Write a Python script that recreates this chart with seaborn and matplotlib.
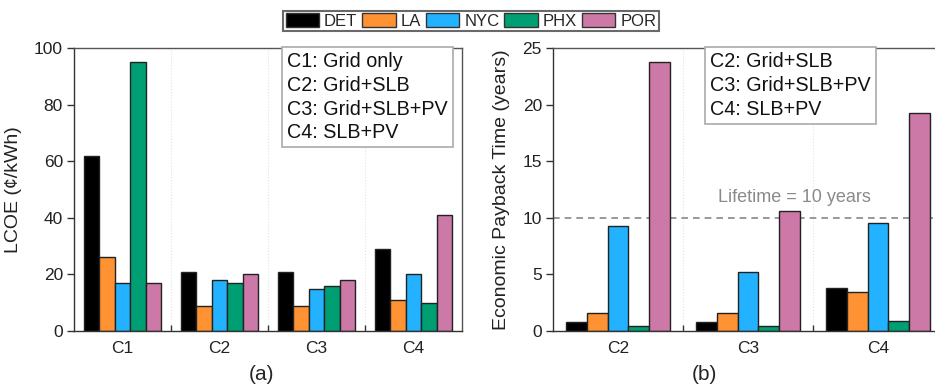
import numpy as np
import pandas as pd
import matplotlib
matplotlib.use("Agg")
import matplotlib.pyplot as plt
import seaborn as sns
from matplotlib.patches import Patch

cities = ["DET", "LA", "NYC", "PHX", "POR"]
colors = ["#000000", "#FF9233", "#22B2FF", "#009E73", "#CC79A7"]

cases_a = ["C1", "C2", "C3", "C4"]
lcoe = {
    "DET": [62, 21, 21, 29],
    "LA": [26, 9, 9, 11],
    "NYC": [17, 18, 15, 20],
    "PHX": [95, 17, 16, 10],
    "POR": [17, 20, 18, 41],
}

cases_b = ["C2", "C3", "C4"]
payback = {
    "DET": [0.8, 0.8, 3.77],
    "LA": [1.6, 1.6, 3.42],
    "NYC": [9.25, 5.2, 9.54],
    "PHX": [0.45, 0.45, 0.88],
    "POR": [23.8, 10.57, 19.26],
}

box_a = "C1: Grid only\nC2: Grid+SLB\nC3: Grid+SLB+PV\nC4: SLB+PV"
box_b = "C2: Grid+SLB\nC3: Grid+SLB+PV\nC4: SLB+PV"

sns.set_theme(style="white")
plt.rcParams["font.family"] = ["Liberation Sans", "DejaVu Sans"]

def to_df(cases, d):
    rows = []
    for c in cities:
        for k, v in zip(cases, d[c]):
            rows.append({"case": k, "city": c, "value": v})
    return pd.DataFrame(rows)

fig = plt.figure(figsize=(9.35, 3.89), dpi=100)
W, H = 935, 389
ax1 = fig.add_axes([74 / W, 1 - 331 / H, 388 / W, 283 / H])
ax2 = fig.add_axes([553 / W, 1 - 331 / H, 390 / W, 283 / H])

pal = dict(zip(cities, colors))
for ax, cases, d in [(ax1, cases_a, lcoe), (ax2, cases_b, payback)]:
    df = to_df(cases, d)
    sns.barplot(data=df, x="case", y="value", hue="city", palette=pal,
                width=0.8, gap=0, saturation=1, edgecolor="#222222",
                linewidth=1.0, legend=False, ax=ax, errorbar=None)
    n = len(cases)
    ax.set_xlim(-0.5, n - 0.5)
    for b in np.arange(0.5, n - 0.5, 1):
        ax.axvline(b, color="#e3e3e3", lw=0.8, ls=":", zorder=0)
    ax.set_xticks(np.arange(0.5, n - 0.5, 1), minor=True)
    ax.tick_params(axis="x", which="minor", direction="in", length=4,
                   bottom=True, width=1, color="#333333")
    ax.tick_params(axis="x", which="major", length=0, labelsize=12.5,
                   pad=7, labelcolor="#222222")
    ax.tick_params(axis="y", which="major", direction="out", length=5,
                   left=True, width=1, color="#333333", labelsize=12.5,
                   labelcolor="#222222", pad=3)
    ax.set_xlabel("")
    for s in ax.spines.values():
        s.set_color("#555555")
        s.set_linewidth(1.0)
    ax.spines["bottom"].set_color("#333333")
    ax.spines["left"].set_color("#333333")

ax1.set_ylim(0, 100)
ax1.set_yticks([0, 20, 40, 60, 80, 100])
ax1.set_ylabel("LCOE (¢/kWh)", fontsize=14, color="#222222")
ax1.yaxis.set_label_coords((22 - 74) / 388, 0.5)
ax2.set_ylim(0, 25)
ax2.set_yticks([0, 5, 10, 15, 20, 25])
ax2.set_ylabel("Economic Payback Time (years)", fontsize=14, color="#222222")
ax2.yaxis.set_label_coords((510 - 553) / 390, 0.5)

ax2.axhline(10, color="#888888", lw=1.2, ls=(0, (4, 3)), zorder=0.5)
ax2.text(794 / W, 1 - 197 / H, "Lifetime = 10 years",
         transform=fig.transFigure, fontsize=13,
         color="#8a8a8a", ha="center", va="center")

bbox = dict(boxstyle="square,pad=0.25", fc="white", ec="#aaaaaa", lw=1.2)
fig.text(287 / W, 1 - 52 / H, box_a, ha="left", va="top",
         multialignment="left", fontsize=14.2, linespacing=1.32,
         bbox=bbox, color="#111111")
fig.text(710 / W, 1 - 52 / H, box_b, ha="left", va="top",
         multialignment="left", fontsize=14.2, linespacing=1.32,
         bbox=bbox, color="#111111")

fig.text(261 / W, 1 - 375 / H, "(a)", ha="center", va="center", fontsize=15)
fig.text(704 / W, 1 - 375 / H, "(b)", ha="center", va="center", fontsize=15)

handles = [Patch(facecolor=c, edgecolor="#333333", lw=1.0, label=l)
           for c, l in zip(colors, cities)]
leg = fig.legend(handles=handles, loc="center", ncol=5,
                 bbox_to_anchor=(471 / W, 1 - 21 / H), frameon=True,
                 fontsize=12, handlelength=2.0, handleheight=0.85,
                 handletextpad=0.3, columnspacing=0.3, borderpad=0.15,
                 fancybox=False, borderaxespad=0)
leg.get_frame().set_edgecolor("#444444")
leg.get_frame().set_linewidth(1.5)

fig.savefig("out.png", dpi=100)
